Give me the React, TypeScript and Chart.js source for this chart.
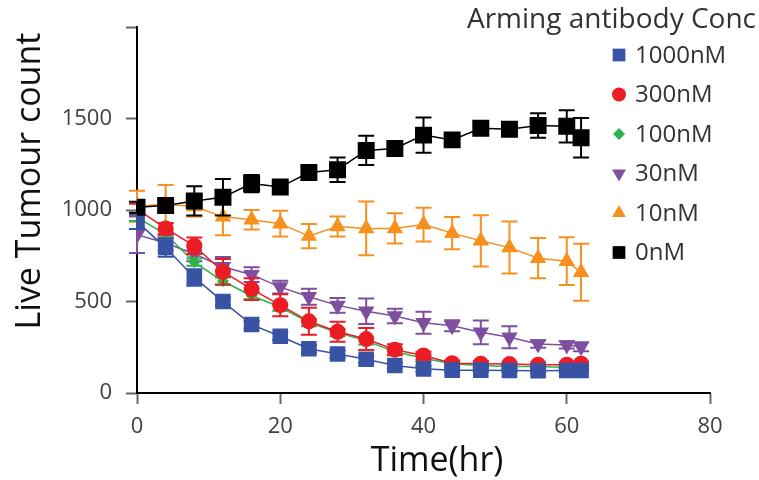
import React, { useEffect, useRef } from "react";
import { Chart, registerables } from "chart.js";

Chart.register(...registerables);

// ---- Data ----
const times = [0, 4, 8, 12, 16, 20, 24, 28, 32, 36, 40, 44, 48, 52, 56, 60, 62];

const seriesLabels = ["1000nM", "300nM", "100nM", "30nM", "10nM", "0nM"];

const conc1000 = [937, 795, 632, 500, 374, 310, 242, 213, 184, 150, 132, 125, 125, 123, 122, 123, 123];
const conc1000Err = [40, 50, 45, 20, 20, 20, 20, 20, 20, 15, 15, 10, 10, 10, 10, 10, 10];

const conc300 = [1005, 900, 805, 663, 568, 480, 392, 335, 295, 237, 205, 163, 160, 158, 155, 155, 160];
const conc300Err = [30, 30, 45, 70, 60, 60, 74, 55, 60, 30, 20, 15, 15, 10, 10, 10, 10];

const conc100 = [960, 868, 716, 611, 532, 470, 385, 330, 285, 225, 190, 160, 150, 145, 145, 140, 140];
const conc100Err = [20, 20, 20, 20, 20, 20, 20, 20, 20, 15, 15, 10, 10, 10, 10, 10, 10];

const conc30 = [865, 820, 760, 690, 647, 579, 526, 479, 447, 421, 384, 368, 332, 305, 268, 263, 253];
const conc30Err = [100, 40, 40, 53, 40, 35, 44, 40, 70, 40, 60, 30, 65, 60, 20, 20, 25];

const conc10 = [1021, 1032, 1020, 963, 947, 926, 858, 910, 900, 900, 921, 874, 832, 795, 737, 721, 660];
const conc10Err = [85, 105, 55, 100, 53, 70, 66, 55, 147, 83, 92, 88, 140, 142, 110, 130, 156];

const conc0 = [1015, 1025, 1050, 1070, 1145, 1126, 1205, 1221, 1326, 1337, 1410, 1384, 1447, 1442, 1463, 1458, 1395];
const conc0Err = [30, 35, 80, 100, 47, 20, 40, 67, 80, 25, 96, 20, 20, 15, 67, 88, 108];

const xTicks = [0, 20, 40, 60, 80];
const yTicks = [0, 500, 1000, 1500, 2000];
const yTickLabels = ["0", "500", "1000", "1500", ""];

const xTitle = "Time(hr)";
const yTitle = "Live Tumour count";
const legendTitle = "Arming antibody Conc";

const FONT = "'Open Sans', 'DejaVu Sans', sans-serif";

const colors = ["#3953A4", "#EC1C24", "#2DB34A", "#7E4F9F", "#F7901E", "#000000"];
const styles = ["rect", "circle", "rectRot", "triangle", "triangle", "rect"];
const rotations = [0, 0, 0, 180, 0, 0];
const radii = [11, 8, 6, 9.5, 9.5, 12];
const drawOrder = [1, 2, 3, 4, 5, 0];
const legendRadii = [9, 7, 6, 8, 8, 9];

const values = [conc1000, conc300, conc100, conc30, conc10, conc0];
const errors = [conc1000Err, conc300Err, conc100Err, conc30Err, conc10Err, conc0Err];

function drawMarker(ctx: CanvasRenderingContext2D, style: string, x: number, y: number, r: number, rotDeg: number) {
  ctx.beginPath();
  if (style === "circle") {
    ctx.arc(x, y, r, 0, Math.PI * 2);
  } else if (style === "rect") {
    const s = r * Math.SQRT1_2;
    ctx.rect(x - s, y - s, 2 * s, 2 * s);
  } else if (style === "rectRot") {
    ctx.moveTo(x, y - r);
    ctx.lineTo(x + r, y);
    ctx.lineTo(x, y + r);
    ctx.lineTo(x - r, y);
    ctx.closePath();
  } else if (style === "triangle") {
    let rad = (rotDeg * Math.PI) / 180;
    ctx.moveTo(x + Math.sin(rad) * r, y - Math.cos(rad) * r);
    rad += (2 * Math.PI) / 3;
    ctx.lineTo(x + Math.sin(rad) * r, y - Math.cos(rad) * r);
    rad += (2 * Math.PI) / 3;
    ctx.lineTo(x + Math.sin(rad) * r, y - Math.cos(rad) * r);
    ctx.closePath();
  }
  ctx.fill();
}

const errorBarPlugin = {
  id: "errorBars",
  beforeDatasetDraw(chart: any, args: any) {
    const ds = chart.data.datasets[args.index];
    const err: number[] = ds.errors;
    if (!err) return;
    const yScale = chart.scales.y;
    const ctx = chart.ctx;
    ctx.save();
    ctx.strokeStyle = ds.borderColor;
    ctx.lineWidth = 2;
    args.meta.data.forEach((pt: any, i: number) => {
      const v = ds.data[i].y;
      const e = err[i];
      const x = pt.x;
      const yTop = yScale.getPixelForValue(v + e);
      const yBot = yScale.getPixelForValue(v - e);
      ctx.beginPath();
      ctx.moveTo(x, yTop);
      ctx.lineTo(x, yBot);
      ctx.moveTo(x - 8, yTop);
      ctx.lineTo(x + 8, yTop);
      ctx.moveTo(x - 8, yBot);
      ctx.lineTo(x + 8, yBot);
      ctx.stroke();
    });
    ctx.restore();
  },
};

const annotationPlugin = {
  id: "customText",
  afterDraw(chart: any) {
    const ctx = chart.ctx;
    ctx.save();
    // axis titles
    ctx.fillStyle = "#111";
    ctx.textAlign = "center";
    ctx.textBaseline = "middle";
    ctx.font = `34px ${FONT}`;
    ctx.save();
    ctx.translate(30, 181);
    ctx.rotate(-Math.PI / 2);
    ctx.fillText(yTitle, 0, 0);
    ctx.restore();
    ctx.font = `34px ${FONT}`;
    ctx.fillText(xTitle, 437, 461);

    // legend
    ctx.fillStyle = "#333";
    ctx.textAlign = "right";
    ctx.font = `28px ${FONT}`;
    ctx.fillText(legendTitle, 756, 20);
    ctx.textAlign = "left";
    ctx.font = `24px ${FONT}`;
    chart.data.datasets.forEach((ds: any, i: number) => {
      const y = 55 + i * 39.5;
      ctx.fillStyle = ds.backgroundColor;
      drawMarker(ctx, ds.pointStyle, 619, y, legendRadii[i], ds.pointRotation || 0);
      ctx.fillStyle = "#333";
      ctx.fillText(ds.label, 635, y + 1);
    });
    ctx.restore();
  },
};

export default function App() {
  const canvasRef = useRef<HTMLCanvasElement>(null);

  useEffect(() => {
    if (!canvasRef.current) return;
    const datasets = seriesLabels.map((label, k) => ({
      label,
      data: times.map((t, i) => ({ x: t, y: values[k][i] })),
      errors: errors[k],
      borderColor: colors[k],
      backgroundColor: colors[k],
      borderWidth: 1.5,
      pointStyle: styles[k],
      pointRotation: rotations[k],
      pointRadius: radii[k],
      pointBorderWidth: 0,
      pointBackgroundColor: colors[k],
      pointBorderColor: colors[k],
      order: drawOrder[k],
      tension: 0,
      fill: false,
    }));

    const chart = new Chart(canvasRef.current, {
      type: "line",
      data: { datasets } as any,
      options: {
        responsive: false,
        animation: false,
        devicePixelRatio: 1,
        layout: { padding: { top: 12, right: 49, bottom: 0, left: 0 } },
        plugins: {
          legend: { display: false },
          tooltip: { enabled: false },
        },
        scales: {
          x: {
            type: "linear",
            min: 0,
            max: 80,
            afterFit(scale: any) {
              scale.height = 87;
            },
            afterBuildTicks(scale: any) {
              scale.ticks = xTicks.map((v) => ({ value: v }));
            },
            ticks: {
              font: { family: FONT, size: 22 },
              color: "#404040",
              padding: 10,
              maxRotation: 0,
            },
            grid: {
              display: true,
              drawOnChartArea: false,
              drawTicks: true,
              tickLength: 11,
              tickColor: "#666",
              tickWidth: 2,
            },
            border: { display: true, color: "#000", width: 2 },
          },
          y: {
            type: "linear",
            min: 0,
            max: 2000,
            afterFit(scale: any) {
              scale.width = 137;
            },
            afterBuildTicks(scale: any) {
              scale.ticks = yTicks.map((v) => ({ value: v }));
            },
            ticks: {
              font: { family: FONT, size: 22 },
              color: "#404040",
              padding: 14,
              callback: (v: any) => {
                const idx = yTicks.indexOf(Number(v));
                return idx >= 0 ? yTickLabels[idx] : "";
              },
            },
            grid: {
              display: true,
              drawOnChartArea: false,
              drawTicks: true,
              tickLength: 11,
              tickColor: "#666",
              tickWidth: 2,
            },
            border: { display: true, color: "#000", width: 2 },
          },
        },
      } as any,
      plugins: [errorBarPlugin, annotationPlugin],
    });
    return () => chart.destroy();
  }, []);

  return (
    <div style={{ position: "absolute", left: 0, top: 0, width: 759, height: 480, background: "#fff" }}>
      <canvas ref={canvasRef} width={759} height={480} style={{ width: 759, height: 480 }} />
    </div>
  );
}
